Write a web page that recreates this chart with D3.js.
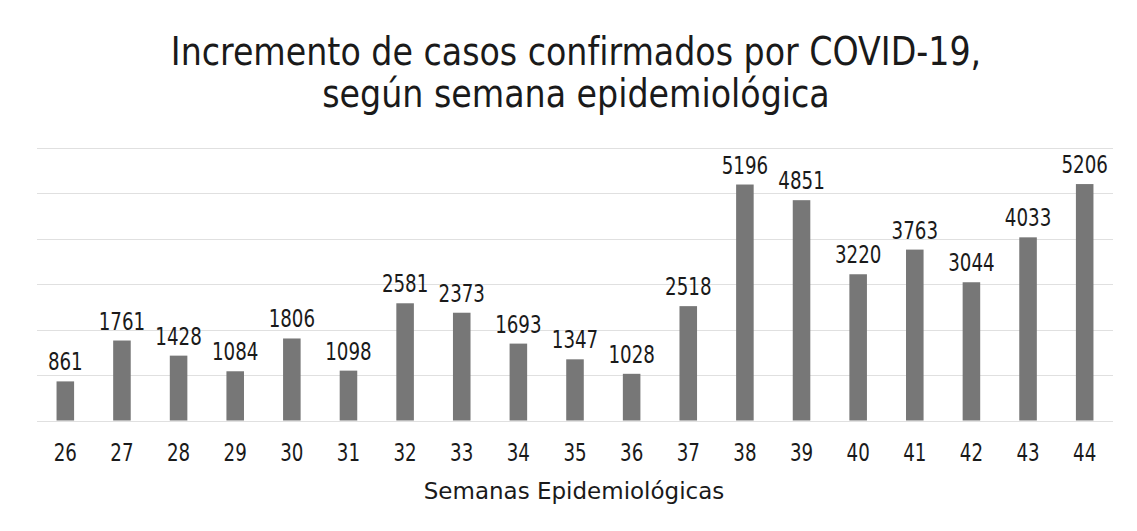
<!DOCTYPE html>
<html lang="es">
<head>
<meta charset="UTF-8" />
<title>Incremento de casos confirmados por COVID-19</title>
<script src="https://cdn.jsdelivr.net/npm/d3@7"></script>
<style>
  body { margin: 0; padding: 0; background: #fff; }
  svg text { font-family: "DejaVu Sans Condensed", "DejaVu Sans", sans-serif; fill: #1a1a1a; }
</style>
</head>
<body>
<script>
// semanas epidemiológicas y casos confirmados
const semanas = ['26', '27', '28', '29', '30', '31', '32', '33', '34', '35',
                 '36', '37', '38', '39', '40', '41', '42', '43', '44'];
const casos = [861, 1761, 1428, 1084, 1806, 1098, 2581, 2373, 1693, 1347,
               1028, 2518, 5196, 4851, 3220, 3763, 3044, 4033, 5206];
const gridValues = [0, 1000, 2000, 3000, 4000, 5000, 6000];
const titulo = ['Incremento de casos confirmados por COVID-19,', 'según semana epidemiológica'];
const tituloEje = 'Semanas Epidemiológicas';

const width = 1137;
const height = 531;
const margin = { top: 148, right: 24, bottom: 110, left: 37 };

const svg = d3.select('body')
    .append('svg')
    .attr('width', width)
    .attr('height', height);

const x = d3.scaleBand()
    .domain(semanas)
    .range([margin.left, width - margin.right])
    .paddingInner(0.69)
    .paddingOuter(0.345);

const y = d3.scaleLinear()
    .domain([0, 6000])
    .range([height - margin.bottom - 0.5, margin.top]);

// el texto del original es algo más alto que ancho: se estira en vertical
const stretch = (px, py, s) => `translate(${px},${py}) scale(1,${s})`;

// líneas de cuadrícula
svg.append('g')
    .selectAll('line')
    .data(gridValues)
    .join('line')
    .attr('x1', margin.left)
    .attr('x2', width - margin.right)
    .attr('y1', d => Math.round(y(d)) + 0.5)
    .attr('y2', d => Math.round(y(d)) + 0.5)
    .attr('stroke', '#e0e0e0')
    .attr('stroke-width', 1);

// barras
svg.append('g')
    .selectAll('rect')
    .data(casos)
    .join('rect')
    .attr('x', (d, i) => x(semanas[i]))
    .attr('y', d => y(d))
    .attr('width', x.bandwidth())
    .attr('height', d => y(0) - y(d))
    .attr('fill', '#777777');

// etiquetas de valores
svg.append('g')
    .selectAll('text')
    .data(casos)
    .join('text')
    .attr('transform', (d, i) => stretch(x(semanas[i]) + x.bandwidth() / 2, y(d) - 11, 1.18))
    .attr('text-anchor', 'middle')
    .attr('font-size', 20.3)
    .text(d => d);

// eje x
const xAxis = svg.append('g')
    .attr('transform', `translate(0,${y(0)})`)
    .call(d3.axisBottom(x).tickSize(0).tickPadding(0));
xAxis.select('.domain').remove();
xAxis.selectAll('.tick text')
    .attr('y', null)
    .attr('dy', null)
    .attr('transform', stretch(0, 40, 1.18))
    .attr('font-size', 20.3)
    .style('font-family', '"DejaVu Sans Condensed", "DejaVu Sans", sans-serif')
    .attr('fill', '#1a1a1a');

svg.append('text')
    .attr('x', 574)
    .attr('y', 499)
    .attr('text-anchor', 'middle')
    .attr('font-size', 23)
    .style('font-family', '"DejaVu Sans", sans-serif')
    .text(tituloEje);

// título
svg.append('g')
    .selectAll('text')
    .data(titulo)
    .join('text')
    .attr('transform', (d, i) => stretch(576, 65 + i * 42, 1.07))
    .attr('text-anchor', 'middle')
    .attr('font-size', 37)
    .text(d => d);
</script>
</body>
</html>
